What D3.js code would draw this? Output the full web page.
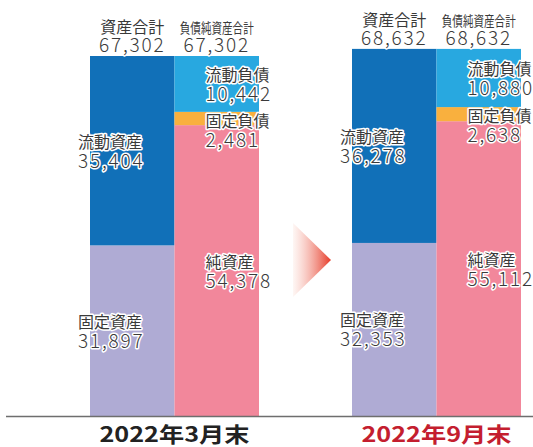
<!DOCTYPE html>
<html>
<head>
<meta charset="utf-8">
<script src="https://cdn.jsdelivr.net/npm/d3@7"></script>
<style>
  body { margin: 0; background: #fff; }
  svg text { font-family: "Noto Sans CJK JP", "Noto Sans", sans-serif; }
  .lbl { fill: #3a3a3a; stroke: #fff; stroke-width: 3px; paint-order: stroke; stroke-linejoin: round; }
  .num { font-size: 19px; font-weight: 300; letter-spacing: 1.8px; }
</style>
</head>
<body>
<div id="chart"></div>
<script>
// Balance sheet data (million yen)
const periods = ['2022年3月末', '2022年9月末'];
const totals = [67302, 68632];
const currentAssets = [35404, 36278];
const fixedAssets = [31897, 32353];
const currentLiab = [10442, 10880];
const fixedLiab = [2481, 2638];
const netAssets = [54378, 55112];
const periodColors = ['#222222', '#c41e2f'];

const width = 533, height = 447;
const baseY = 416;

const svg = d3.select('#chart').append('svg')
    .attr('width', width)
    .attr('height', height);

const x = d3.scaleBand()
    .domain(periods)
    .range([90, 521])
    .paddingInner(0.355);

const xSub = d3.scaleBand()
    .domain(['assets', 'liab'])
    .range([0, x.bandwidth()]);

const y = d3.scaleLinear()
    .domain([0, totals[0]])
    .range([baseY, 56]);

const fmt = d3.format(',');

// Arrow gradient
const defs = svg.append('defs');
const grad = defs.append('linearGradient').attr('id', 'arrowGrad');
grad.append('stop').attr('offset', '0%').attr('stop-color', '#fdeee9').attr('stop-opacity', 0.5);
grad.append('stop').attr('offset', '100%').attr('stop-color', '#e63a27');

// Build stacked segments per period
const segments = [];
periods.forEach((p, i) => {
    // assets bar: fixed assets at bottom, current assets on top
    segments.push({p, bar: 'assets', name: '固定資産', v0: 0, v1: fixedAssets[i], color: '#afabd4', lx: -12});
    segments.push({p, bar: 'assets', name: '流動資産', v0: fixedAssets[i], v1: fixedAssets[i] + currentAssets[i], color: '#1170b8', lx: -12});
    // liabilities + net assets bar
    const a = netAssets[i], b = a + fixedLiab[i], c = b + currentLiab[i];
    segments.push({p, bar: 'liab', name: '純資産', v0: 0, v1: a, color: '#f2879b', lx: 31});
    segments.push({p, bar: 'liab', name: '固定負債', v0: a, v1: b, color: '#f9b03e', lx: 31, small: true});
    segments.push({p, bar: 'liab', name: '流動負債', v0: b, v1: c, color: '#28a8e0', lx: 31});
});

svg.append('g')
    .selectAll('rect')
    .data(segments)
    .enter()
    .append('rect')
    .attr('x', d => x(d.p) + xSub(d.bar))
    .attr('width', xSub.bandwidth())
    .attr('y', d => y(d.v1))
    .attr('height', d => y(d.v0) - y(d.v1))
    .attr('fill', d => d.color);

// Baseline
svg.append('line')
    .attr('x1', 6).attr('x2', width)
    .attr('y1', baseY + 0.5).attr('y2', baseY + 0.5)
    .attr('stroke', '#6e6e6e')
    .attr('stroke-width', 1.3);

// Segment labels
const segLabels = svg.append('g');
segments.forEach(d => {
    const tx = x(d.p) + xSub(d.bar) + d.lx;
    // label pair is centred on the segment, small segment gets top-aligned
    const top = d.small ? y(d.v1) + 1 : (y(d.v1) + y(d.v0)) / 2 - 17;
    segLabels.append('text')
        .attr('class', 'lbl')
        .attr('x', tx)
        .attr('y', top + 14)
        .attr('font-size', '16px')
        .text(d.name);
    segLabels.append('text')
        .attr('class', 'lbl num')
        .attr('x', tx)
        .attr('y', top + 34)
        .text(fmt(d.v1 - d.v0));
});

// Header totals
periods.forEach((p, i) => {
    const topY = y(totals[i]);
    const heads = [
        {bar: 'assets', name: '資産合計', len: null},
        {bar: 'liab', name: '負債純資産合計', len: 74}
    ];
    heads.forEach(h => {
        const cx = x(p) + xSub(h.bar) + xSub.bandwidth() / 2;
        const t = svg.append('text')
            .attr('class', 'lbl')
            .attr('x', cx)
            .attr('y', topY - 23)
            .attr('text-anchor', 'middle')
            .attr('font-size', h.len ? '14px' : '16px')
            .text(h.name);
        if (h.len) t.attr('textLength', h.len).attr('lengthAdjust', 'spacingAndGlyphs');
        svg.append('text')
            .attr('class', 'lbl num')
            .attr('x', cx)
            .attr('y', topY - 4)
            .attr('text-anchor', 'middle')
            .text(fmt(totals[i]));
    });
});

// Period labels
svg.append('g')
    .selectAll('text')
    .data(periods)
    .enter()
    .append('text')
    .attr('x', d => x(d) + x.bandwidth() / 2)
    .attr('y', 442)
    .attr('text-anchor', 'middle')
    .attr('font-size', '21px')
    .attr('font-weight', 'bold')
    .attr('fill', (d, i) => periodColors[i])
    .attr('textLength', 150)
    .attr('lengthAdjust', 'spacingAndGlyphs')
    .text(d => d);

// Arrow between periods
const ax = x(periods[0]) + x.bandwidth() + 34;
svg.append('path')
    .attr('d', `M${ax},223 L${ax + 38},260 L${ax},297 Z`)
    .attr('fill', 'url(#arrowGrad)');
</script>
</body>
</html>
